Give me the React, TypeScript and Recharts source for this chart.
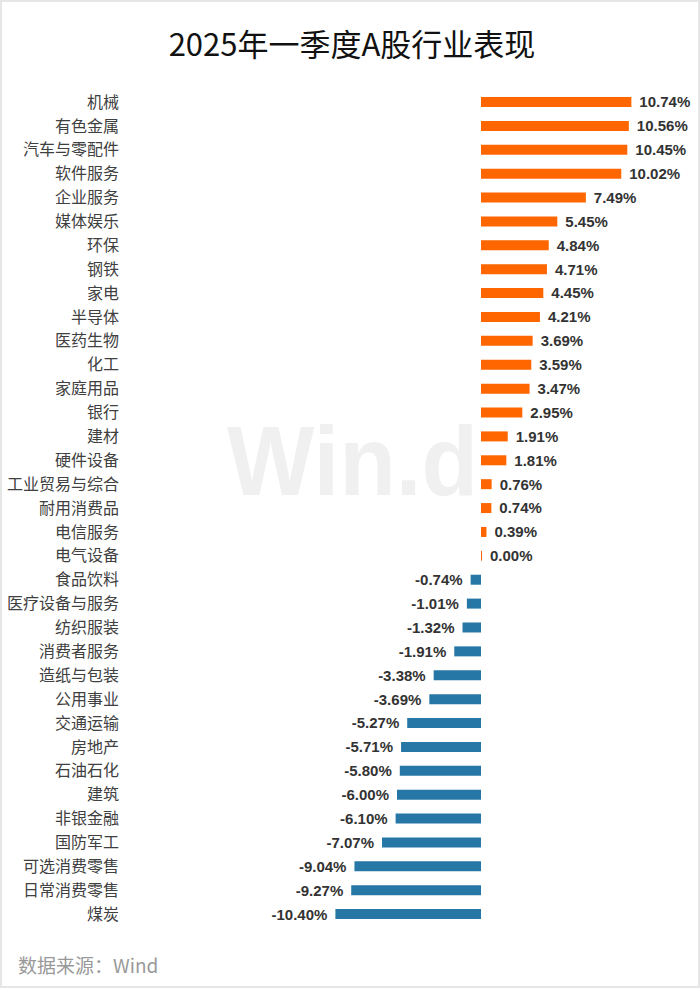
import { BarChart, Bar, XAxis, YAxis, Cell, LabelList } from "recharts";

const industries = [
  "机械", "有色金属", "汽车与零配件", "软件服务", "企业服务", "媒体娱乐", "环保",
  "钢铁", "家电", "半导体", "医药生物", "化工", "家庭用品", "银行", "建材",
  "硬件设备", "工业贸易与综合", "耐用消费品", "电信服务", "电气设备", "食品饮料",
  "医疗设备与服务", "纺织服装", "消费者服务", "造纸与包装", "公用事业", "交通运输",
  "房地产", "石油石化", "建筑", "非银金融", "国防军工", "可选消费零售", "日常消费零售", "煤炭",
];

const returns = [
  10.74, 10.56, 10.45, 10.02, 7.49, 5.45, 4.84,
  4.71, 4.45, 4.21, 3.69, 3.59, 3.47, 2.95, 1.91,
  1.81, 0.76, 0.74, 0.39, 0.0, -0.74,
  -1.01, -1.32, -1.91, -3.38, -3.69, -5.27,
  -5.71, -5.8, -6.0, -6.1, -7.07, -9.04, -9.27, -10.4,
];

const UP = "#ff6600";
const DOWN = "#2677a5";

const data = industries.map((name, i) => ({ name, value: returns[i] }));

function ValueLabel(props: any) {
  const { x, y, width, height, value } = props;
  const left = Math.min(x, x + width);
  const right = Math.max(x, x + width);
  const neg = value < 0;
  return (
    <text
      x={neg ? left - 8 : right + 8}
      y={y + height / 2}
      dy="0.36em"
      textAnchor={neg ? "end" : "start"}
      fontFamily="'Liberation Sans', Arial, sans-serif"
      fontWeight="bold"
      fontSize={15}
      fill="#333"
    >
      {value.toFixed(2)}%
    </text>
  );
}

export default function App() {
  return (
    <div
      style={{
        position: "relative",
        width: 700,
        height: 988,
        boxSizing: "border-box",
        border: "2px solid #e6e6e6",
        background: "#fff",
        overflow: "hidden",
      }}
    >
      <style>{`body{margin:0}`}</style>
      <div
        style={{
          position: "absolute",
          top: 21,
          left: 0,
          width: 700,
          textAlign: "center",
          fontFamily: "'Noto Sans CJK SC', sans-serif",
          fontSize: 31,
          lineHeight: "40px",
          color: "#111",
        }}
      >
        2025年一季度A股行业表现
      </div>
      {/* watermark logo */}
      <svg style={{ position: "absolute", left: 0, top: 0 }} width={700} height={990}>
        <text
          transform="translate(225,493) scale(0.945,1)"
          x={0}
          y={0}
          fontFamily="'Liberation Sans', Arial, sans-serif"
          fontWeight="bold"
          fontSize={98}
          fill="#f0f0f0"
        >
          Win.d
        </text>
      </svg>
      <div style={{ position: "absolute", left: -2, top: -2 }}>
        <BarChart
          width={700}
          height={940}
          data={data}
          layout="vertical"
          margin={{ top: 90, right: 44, bottom: 14, left: 0 }}
          barCategoryGap={0}
        >
          <XAxis type="number" domain={[-25, 12.5]} hide />
          <YAxis
            type="category"
            dataKey="name"
            width={131}
            axisLine={false}
            tickLine={false}
            tickSize={0}
            tickMargin={12}
            interval={0}
            tick={{ fontSize: 16, fill: "#404040", fontFamily: "'Noto Sans CJK SC', sans-serif" }}
          />
          <Bar dataKey="value" barSize={10} minPointSize={1} isAnimationActive={false}>
            {data.map((d) => (
              <Cell key={d.name} fill={d.value >= 0 ? UP : DOWN} />
            ))}
            <LabelList dataKey="value" content={ValueLabel} />
          </Bar>
        </BarChart>
      </div>
      <div
        style={{
          position: "absolute",
          left: 16,
          top: 949,
          fontFamily: "'Noto Sans CJK SC', sans-serif",
          fontSize: 19,
          lineHeight: "28px",
          color: "#999",
        }}
      >
        数据来源：Wind
      </div>
    </div>
  );
}
